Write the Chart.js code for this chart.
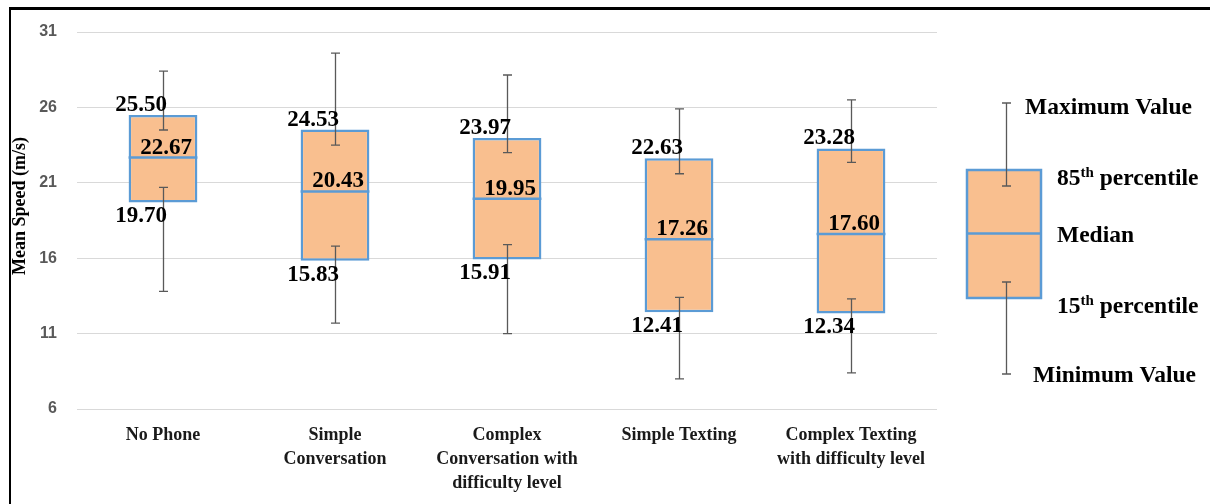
<!DOCTYPE html>
<html>
<head>
<meta charset="utf-8">
<script src="https://cdn.jsdelivr.net/npm/chart.js@4.4.1/dist/chart.umd.min.js"></script>
<style>
  html, body { margin: 0; padding: 0; background: #ffffff; }
  #wrap { position: relative; width: 1210px; height: 504px; overflow: hidden; }
  #frame { position: absolute; left: 9px; top: 7px; right: -10px; bottom: -10px;
           border-left: 2px solid #000; border-top: 3px solid #000; pointer-events: none; }
</style>
</head>
<body>
<div id="wrap">
  <canvas id="c" width="1210" height="504"></canvas>
  <div id="frame"></div>
</div>
<script>
// ---- data ----
const categories = [
  ["No Phone"],
  ["Simple", "Conversation"],
  ["Complex", "Conversation with", "difficulty level"],
  ["Simple Texting"],
  ["Complex Texting", "with difficulty level"]
];
const p85Values    = [25.50, 24.53, 23.97, 22.63, 23.28];
const medianValues = [22.67, 20.43, 19.95, 17.26, 17.60];
const p15Values    = [19.70, 15.83, 15.91, 12.41, 12.34];
const maxValues    = [28.4, 29.6, 28.15, 25.9, 26.5];
const upperCapValues = [24.5, 23.5, 23.0, 21.6, 22.35];
const lowerCapValues = [20.7, 16.8, 16.9, 13.4, 13.3];
const minValues    = [13.8, 11.7, 11.0, 8.0, 8.4];
const yTicks = [6, 11, 16, 21, 26, 31];
const yTitle = "Mean Speed (m/s)";
const legendLabels = [
  { base: "Maximum Value", sup: "" },
  { base: "85", sup: "th", rest: " percentile" },
  { base: "Median", sup: "" },
  { base: "15", sup: "th", rest: " percentile" },
  { base: "Minimum Value", sup: "" }
];

// ---- styles ----
const BOX_FILL = '#F9BF8F';
const BOX_BORDER = '#5B9BD5';
const WHISKER = '#595959';
const SERIF = '"Liberation Serif", "Times New Roman", serif';

function vline(ctx, x, y1, y2, cap) {
  ctx.beginPath();
  ctx.moveTo(x, y1); ctx.lineTo(x, y2);
  ctx.moveTo(x - cap, y1); ctx.lineTo(x + cap, y1);
  ctx.moveTo(x - cap, y2); ctx.lineTo(x + cap, y2);
  ctx.stroke();
}

const extras = {
  id: 'extras',
  afterDatasetsDraw(chart) {
    const { ctx, scales: { x, y }, chartArea } = chart;
    const meta = chart.getDatasetMeta(0);
    ctx.save();
    // median lines across each box
    ctx.strokeStyle = BOX_BORDER;
    ctx.lineWidth = 2.5;
    meta.data.forEach((bar, i) => {
      const half = bar.width / 2;
      const my = y.getPixelForValue(medianValues[i]);
      ctx.beginPath();
      ctx.moveTo(bar.x - half, my); ctx.lineTo(bar.x + half, my);
      ctx.stroke();
    });
    // whiskers
    ctx.strokeStyle = WHISKER;
    ctx.lineWidth = 1.3;
    categories.forEach((c, i) => {
      const px = Math.round(x.getPixelForValue(i)) + 0.5;
      vline(ctx, px, y.getPixelForValue(upperCapValues[i]), y.getPixelForValue(maxValues[i]), 4.5);
      vline(ctx, px, y.getPixelForValue(lowerCapValues[i]), y.getPixelForValue(minValues[i]), 4.5);
    });
    // value labels
    ctx.fillStyle = '#000';
    ctx.font = 'bold 23px ' + SERIF;
    ctx.textAlign = 'center';
    ctx.textBaseline = 'middle';
    const fmt = v => v.toFixed(2);
    categories.forEach((c, i) => {
      const px = x.getPixelForValue(i);
      ctx.fillText(fmt(p85Values[i]), px - 22, y.getPixelForValue(p85Values[i]) - 10);
      ctx.fillText(fmt(medianValues[i]), px + 3, y.getPixelForValue(medianValues[i]) - 10);
      ctx.fillText(fmt(p15Values[i]), px - 22, y.getPixelForValue(p15Values[i]) + 14);
    });

    // y axis title
    ctx.save();
    ctx.translate(20, 206);
    ctx.rotate(-Math.PI / 2);
    ctx.font = 'bold 18px ' + SERIF;
    ctx.fillStyle = '#000';
    ctx.textAlign = 'center';
    ctx.textBaseline = 'middle';
    ctx.fillText(yTitle, 0, 0);
    ctx.restore();

    // legend glyph (explanatory box on the right)
    const L = chartArea.right + 30;   // box left
    const W = 74;
    const wx = L + 39.5;
    const bTop = 170, bMed = 233.5, bBot = 298;
    ctx.fillStyle = BOX_FILL;
    ctx.fillRect(L, bTop, W, bBot - bTop);
    ctx.strokeStyle = BOX_BORDER;
    ctx.lineWidth = 2.5;
    ctx.strokeRect(L, bTop, W, bBot - bTop);
    ctx.beginPath(); ctx.moveTo(L, bMed); ctx.lineTo(L + W, bMed); ctx.stroke();
    ctx.strokeStyle = WHISKER;
    ctx.lineWidth = 1.3;
    vline(ctx, wx, 186, 103, 4.5);
    vline(ctx, wx, 282, 374, 4.5);

    // legend labels
    ctx.fillStyle = '#000';
    ctx.textAlign = 'left';
    ctx.textBaseline = 'alphabetic';
    const pos = [[L + 58, 114], [L + 90, 185], [L + 90, 242], [L + 90, 313], [L + 66, 382]];
    legendLabels.forEach((lab, i) => {
      let [tx, ty] = pos[i];
      ctx.font = 'bold 23.5px ' + SERIF;
      ctx.fillText(lab.base, tx, ty);
      tx += ctx.measureText(lab.base).width;
      if (lab.sup) {
        ctx.font = 'bold 15px ' + SERIF;
        ctx.fillText(lab.sup, tx, ty - 8);
        tx += ctx.measureText(lab.sup).width;
        ctx.font = 'bold 23.5px ' + SERIF;
        ctx.fillText(lab.rest, tx, ty);
      }
    });
    ctx.restore();
  }
};

new Chart(document.getElementById('c'), {
  type: 'bar',
  data: {
    labels: categories,
    datasets: [
      {
        label: '15th to 85th percentile',
        data: p15Values.map((v, i) => [v, p85Values[i]]),
        backgroundColor: BOX_FILL,
        borderColor: BOX_BORDER,
        borderWidth: 2.5,
        borderSkipped: false,
        barPercentage: 0.4,
        categoryPercentage: 1.0
      }
    ]
  },
  options: {
    responsive: false,
    animation: false,
    events: [],
    layout: { padding: { top: 32, right: 273, bottom: 0, left: 0 } },
    plugins: { legend: { display: false }, tooltip: { enabled: false }, title: { display: false } },
    scales: {
      x: {
        grid: { display: false, drawTicks: false },
        border: { display: false },
        ticks: {
          color: '#1a1a1a',
          font: { family: SERIF, size: 18, weight: 'bold', lineHeight: 1.35 },
          padding: 14,
          maxRotation: 0,
          autoSkip: false
        },
        afterFit(scale) { scale.height = 95; }
      },
      y: {
        min: 6,
        max: 31,
        afterBuildTicks(scale) { scale.ticks = yTicks.map(v => ({ value: v })); },
        grid: { color: '#d9d9d9', lineWidth: 1, drawTicks: false },
        border: { display: false },
        ticks: {
          color: '#595959',
          font: { family: '"Liberation Sans", Arial, sans-serif', size: 16, weight: 'bold' },
          padding: 20
        },
        afterFit(scale) { scale.width = 77; }
      }
    }
  },
  plugins: [extras]
});
</script>
</body>
</html>
